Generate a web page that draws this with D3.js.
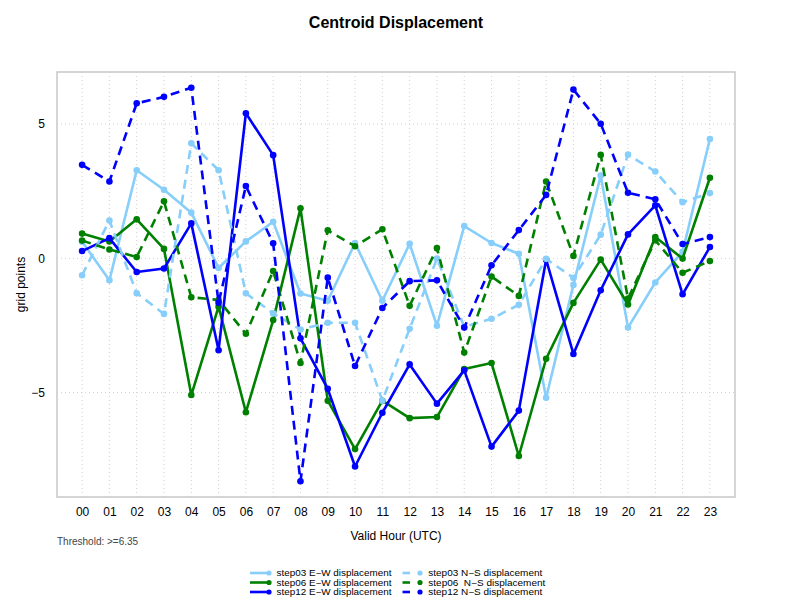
<!DOCTYPE html>
<html>
<head>
<meta charset="utf-8">
<script src="https://cdn.jsdelivr.net/npm/d3@7"></script>
<style>
  body { margin: 0; background: #fff; }
  svg { font-family: "Liberation Sans", Arial, sans-serif; }
  .legend text { white-space: pre; }
</style>
</head>
<body>
<div id="chart"></div>
<script>
// Valid hours (UTC)
const hours = ["00","01","02","03","04","05","06","07","08","09","10","11",
               "12","13","14","15","16","17","18","19","20","21","22","23"];

// E-W displacement, grid points
const step03EW = [0.62, -0.82, 3.28, 2.55, 1.70, -0.36, 0.63, 1.36, -1.31, -1.58, 0.57, -1.58,
                  0.54, -2.51, 1.20, 0.57, 0.17, -5.19, -0.99, 3.08, -2.58, -0.90, 0.24, 4.44];
const step06EW = [0.92, 0.63, 1.45, 0.35, -5.09, -1.80, -5.73, -2.30, 1.86, -5.30, -7.10, -5.30,
                  -5.95, -5.91, -4.12, -3.90, -7.36, -3.74, -1.66, -0.05, -1.72, 0.79, -0.01, 3.00];
const step12EW = [0.27, 0.75, -0.51, -0.38, 1.30, -3.42, 5.40, 3.84, -2.98, -4.86, -7.75, -5.75,
                  -3.95, -5.41, -4.17, -7.01, -5.67, -0.05, -3.56, -1.19, 0.89, 1.97, -1.34, 0.42];

// N-S displacement, grid points
const step03NS = [-0.63, 1.41, -1.30, -2.07, 4.28, 3.28, -1.30, -2.05, -2.65, -2.40, -2.40, -5.30,
                  -2.62, -0.01, -2.55, -2.25, -1.73, -0.02, -0.73, 0.88, 3.86, 3.23, 2.09, 2.43];
const step06NS = [0.66, 0.33, 0.05, 2.12, -1.45, -1.55, -2.81, -0.47, -3.90, 1.04, 0.45, 1.08,
                  -1.77, 0.38, -3.51, -0.68, -1.40, 2.86, 0.09, 3.85, -1.50, 0.67, -0.54, -0.10];
const step12NS = [3.48, 2.86, 5.77, 6.01, 6.35, -1.65, 2.69, 0.56, -8.30, -0.72, -4.01, -1.85,
                  -0.85, -0.82, -2.58, -0.26, 1.05, 2.36, 6.28, 5.01, 2.44, 2.20, 0.53, 0.79];

const yTicks = [-5, 0, 5];
const threshold = 6.35;

const series = [
  { name: "step03 E\u2212W displacement", values: step03EW, color: "#87cefa", dashed: false },
  { name: "step06 E\u2212W displacement", values: step06EW, color: "#008000", dashed: false },
  { name: "step12 E\u2212W displacement", values: step12EW, color: "#0000ff", dashed: false },
  { name: "step03 N\u2212S displacement", values: step03NS, color: "#87cefa", dashed: true },
  { name: "step06  N\u2212S displacement", values: step06NS, color: "#008000", dashed: true },
  { name: "step12 N\u2212S displacement", values: step12NS, color: "#0000ff", dashed: true }
];

const W = 792, H = 612;
const plot = { left: 57, right: 735, top: 72, bottom: 497 };
const DASH = "9,6";

const svg = d3.select("#chart").append("svg")
  .attr("width", W).attr("height", H);

// R-style 4% extension of the data range
const xPad = (hours.length - 1) * 0.04;
const x = d3.scaleLinear()
  .domain([-xPad, hours.length - 1 + xPad])
  .range([plot.left, plot.right]);

const allValues = series.flatMap(s => s.values);
const [yMin, yMax] = d3.extent(allValues);
const yPad = (yMax - yMin) * 0.04;
const y = d3.scaleLinear()
  .domain([yMin - yPad, yMax + yPad])
  .range([plot.bottom, plot.top]);

// grid
const grid = svg.append("g")
  .attr("stroke", "#d0d0d0").attr("stroke-width", 1).attr("stroke-dasharray", "1,3");
grid.selectAll(".vg").data(hours).enter().append("line")
  .attr("x1", (d, i) => x(i)).attr("x2", (d, i) => x(i))
  .attr("y1", plot.top).attr("y2", plot.bottom);
grid.selectAll(".hg").data(yTicks).enter().append("line")
  .attr("x1", plot.left).attr("x2", plot.right)
  .attr("y1", d => y(d)).attr("y2", d => y(d));

// box
svg.append("rect")
  .attr("x", plot.left).attr("y", plot.top)
  .attr("width", plot.right - plot.left).attr("height", plot.bottom - plot.top)
  .attr("fill", "none").attr("stroke", "#c8c8c8").attr("stroke-width", 1.5);

// axes (labels only, no tick marks)
const xAxis = svg.append("g")
  .attr("transform", `translate(0,${plot.bottom})`)
  .call(d3.axisBottom(x).tickValues(d3.range(hours.length))
    .tickFormat(i => hours[i]).tickSize(0).tickPadding(10));
const yAxis = svg.append("g")
  .attr("transform", `translate(${plot.left},0)`)
  .call(d3.axisLeft(y).tickValues(yTicks)
    .tickFormat(d => d < 0 ? "\u2212" + Math.abs(d) : d).tickSize(0).tickPadding(12));
[xAxis, yAxis].forEach(a => {
  a.select(".domain").remove();
  a.selectAll("text").attr("font-size", 12).attr("fill", "#000")
    .attr("font-family", "'Liberation Sans', Arial, sans-serif");
});

// series
const line = d3.line().x((d, i) => x(i)).y(d => y(d));
series.forEach(s => {
  const g = svg.append("g");
  g.append("path")
    .attr("d", line(s.values))
    .attr("fill", "none")
    .attr("stroke", s.color)
    .attr("stroke-width", 2.6)
    .attr("stroke-linejoin", "round")
    .attr("stroke-dasharray", s.dashed ? DASH : null);
  g.selectAll("circle").data(s.values).enter().append("circle")
    .attr("cx", (d, i) => x(i)).attr("cy", d => y(d))
    .attr("r", 3.3).attr("fill", s.color);
});

// titles
svg.append("text")
  .attr("x", (plot.left + plot.right) / 2).attr("y", 28)
  .attr("text-anchor", "middle").attr("font-size", 16).attr("font-weight", "bold")
  .text("Centroid Displacement");
svg.append("text")
  .attr("x", (plot.left + plot.right) / 2).attr("y", 540)
  .attr("text-anchor", "middle").attr("font-size", 12)
  .text("Valid Hour (UTC)");
svg.append("text")
  .attr("transform", `translate(25,${(plot.top + plot.bottom) / 2}) rotate(-90)`)
  .attr("text-anchor", "middle").attr("font-size", 12)
  .text("grid points");
svg.append("text")
  .attr("x", plot.left).attr("y", 545)
  .attr("font-size", 10).attr("fill", "#444")
  .text("Threshold: >=" + threshold);

// legend
const legendRows = [573, 582.5, 592];
const legend = svg.append("g").attr("class", "legend").attr("font-size", 8.6);
series.forEach((s, k) => {
  const col = s.dashed ? 1 : 0;
  const ly = legendRows[k % 3];
  if (col === 0) {
    legend.append("line").attr("x1", 250).attr("x2", 268).attr("y1", ly).attr("y2", ly)
      .attr("stroke", s.color).attr("stroke-width", 2.6);
    legend.append("circle").attr("cx", 269).attr("cy", ly).attr("r", 2.6).attr("fill", s.color);
    legend.append("text").attr("x", 276.5).attr("y", ly + 3.1)
      .attr("textLength", 115).attr("lengthAdjust", "spacingAndGlyphs")
      .text(s.name);
  } else {
    legend.append("line").attr("x1", 402.5).attr("x2", 410).attr("y1", ly).attr("y2", ly)
      .attr("stroke", s.color).attr("stroke-width", 2.6);
    legend.append("circle").attr("cx", 420).attr("cy", ly).attr("r", 2.6).attr("fill", s.color);
    legend.append("text").attr("x", 428.3).attr("y", ly + 3.1)
      .attr("textLength", k === 4 ? 117 : 114).attr("lengthAdjust", "spacingAndGlyphs")
      .text(s.name);
  }
});
</script>
</body>
</html>
